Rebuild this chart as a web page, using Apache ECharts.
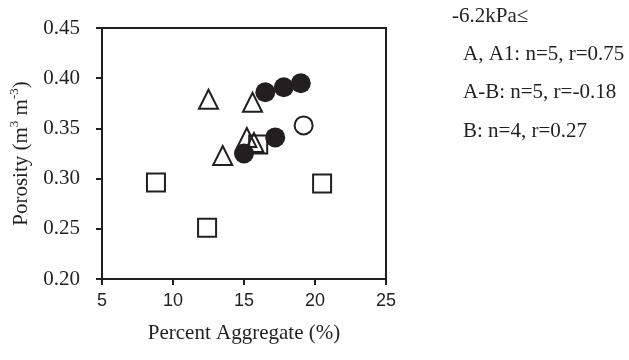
<!DOCTYPE html>
<html>
<head>
<meta charset="utf-8">
<script src="https://cdn.jsdelivr.net/npm/echarts@6/dist/echarts.min.js"></script>
<style>html,body{margin:0;padding:0;background:#fff;}#c{width:629px;height:360px;}</style>
</head>
<body>
<div id="c"></div>
<script>
// Data
const filledX = [16.5, 17.8, 19.0, 17.2, 15.0];
const filledY = [0.386, 0.391, 0.395, 0.341, 0.325];
const openCircleX = [19.2];
const openCircleY = [0.353];
const triangleX = [12.5, 15.6, 15.2, 13.5, 15.7];
const triangleY = [0.379, 0.376, 0.341, 0.323, 0.336];
const squareX = [8.8, 12.4, 20.5, 16.0];
const squareY = [0.296, 0.251, 0.295, 0.334];
const legendLines = ['-6.2kPa\u2264', 'A, A1: n=5, r=0.75', 'A-B: n=5, r=-0.18', 'B: n=4, r=0.27'];
const xTicks = [5, 10, 15, 20, 25];
const yTicks = [0.20, 0.25, 0.30, 0.35, 0.40, 0.45];

const INK = '#231f20';
const SERIF = '"Liberation Serif", "Times New Roman", serif';
const SANS = '"Liberation Sans", Arial, sans-serif';
const zip = (xs, ys) => xs.map((x, i) => [x, ys[i]]);

const chart = echarts.init(document.getElementById('c'), null, {renderer: 'canvas'});
const openStyle = {color: 'rgba(255,255,255,0)', borderColor: INK, borderWidth: 2, opacity: 1};
chart.setOption({
  animation: false,
  backgroundColor: '#fff',
  grid: {left: 102, top: 28, width: 284, height: 251, show: true, borderColor: INK, borderWidth: 2, backgroundColor: 'transparent'},
  xAxis: {
    type: 'value', min: xTicks[0], max: xTicks[xTicks.length - 1], interval: 5,
    name: 'Percent Aggregate (%)', nameLocation: 'middle', nameGap: 44,
    nameTextStyle: {fontFamily: SERIF, fontSize: 21, color: INK},
    axisLine: {show: true, lineStyle: {color: INK, width: 2}},
    axisTick: {show: true, inside: false, length: 6, lineStyle: {color: INK, width: 2}},
    axisLabel: {fontFamily: SANS, fontSize: 18, color: INK, margin: 13},
    splitLine: {show: false}
  },
  yAxis: {
    type: 'value', min: yTicks[0], max: yTicks[yTicks.length - 1], interval: 0.05,
    name: '{a|Porosity (m}{s|3}{a| m}{s|-3}{a|)}', nameLocation: 'middle', nameGap: 70,
    nameTextStyle: {
      color: INK,
      rich: {
        a: {fontFamily: SERIF, fontSize: 21, color: INK, verticalAlign: 'bottom', lineHeight: 24},
        s: {fontFamily: SERIF, fontSize: 13, color: INK, verticalAlign: 'top', lineHeight: 24, padding: [0, 0, 8, 0]}
      }
    },
    axisLine: {show: true, lineStyle: {color: INK, width: 2}},
    axisTick: {show: true, inside: false, length: 6, lineStyle: {color: INK, width: 2}},
    axisLabel: {fontFamily: SERIF, fontSize: 21, color: INK, margin: 22, formatter: v => v.toFixed(2)},
    splitLine: {show: false}
  },
  graphic: legendLines.map((t, i) => ({
    type: 'text', x: i === 0 ? 452 : 463, y: [16, 54, 92, 131][i], silent: true,
    style: {text: t, font: '21px ' + SERIF, fill: INK, verticalAlign: 'middle'}
  })),
  series: [
    {type: 'scatter', symbol: 'rect', symbolSize: 18, data: zip(squareX, squareY), itemStyle: openStyle, silent: true},
    {type: 'scatter', symbol: 'triangle', symbolSize: 19, data: zip(triangleX, triangleY), itemStyle: openStyle, silent: true},
    {type: 'scatter', symbol: 'circle', symbolSize: 18, data: zip(openCircleX, openCircleY), itemStyle: openStyle, silent: true},
    {type: 'scatter', symbol: 'circle', symbolSize: 20, data: zip(filledX, filledY), itemStyle: {color: INK, opacity: 1}, silent: true}
  ]
});
</script>
</body>
</html>
